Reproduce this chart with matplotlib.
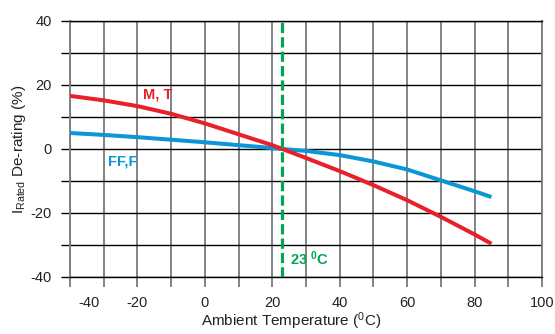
import matplotlib
matplotlib.use("Agg")
import matplotlib.pyplot as plt
import matplotlib.transforms as mtransforms
import numpy as np

plt.rcParams['font.family'] = ['Liberation Sans', 'DejaVu Sans']
plt.rcParams['mathtext.fontset'] = 'custom'
plt.rcParams['mathtext.rm'] = 'Liberation Sans'
plt.rcParams['mathtext.it'] = 'Liberation Sans'

# Data
temps = [-40, -30, -20, -10, 0, 10, 20, 23, 30, 40, 50, 60, 70, 80, 85]
mt_derating = [16.6, 15.2, 13.4, 11.0, 8.0, 4.6, 1.2, 0.0, -2.8, -6.9, -11.3, -16.0, -21.2, -26.7, -29.6]
fff_derating = [5.0, 4.4, 3.7, 2.9, 2.1, 1.2, 0.3, 0.0, -0.6, -1.9, -3.9, -6.4, -9.8, -13.2, -15.0]
ref_temp = 23
xtick_vals = [-40, -20, 0, 20, 40, 60, 80, 100]
xtick_labels = ['-40', '-20', '0', '20', '40', '60', '80', '100']
ytick_vals = [-40, -20, 0, 20, 40]
ytick_labels = ['-40', '-20', '0', '20', '40']

RED = '#E8202A'
BLUE = '#0B96D6'
GREEN = '#00A651'
VGRAY = '#7a7a7a'

fig = plt.figure(figsize=(5.55, 3.34), dpi=100)
ax = fig.add_axes([70/555, 1-277/334, (542-70)/555, (277-21)/334])

ax.set_xlim(-40, 100)
ax.set_ylim(-40, 40)

ax.set_xticks(xtick_vals)
ax.set_xticklabels(xtick_labels)
ax.set_xticks(np.arange(-40, 101, 10), minor=True)
ax.set_yticks(ytick_vals)
ax.set_yticklabels(ytick_labels)
ax.set_yticks(np.arange(-40, 41, 10), minor=True)

ax.grid(True, which='both', axis='x', color=VGRAY, lw=1.3)
ax.grid(True, which='both', axis='y', color='black', lw=1.0)
ax.set_axisbelow(True)

ax.tick_params(axis='x', which='both', length=7.5, width=1.3, color=VGRAY,
               labelsize=10.5, pad=6.5, labelcolor='#222222')
ax.tick_params(axis='y', which='both', length=6.5, width=1.0, color='black',
               labelsize=10.5, pad=6.5, labelcolor='#222222')

for s in ['left', 'right']:
    ax.spines[s].set_color(VGRAY)
    ax.spines[s].set_linewidth(1.3)
for s in ['top', 'bottom']:
    ax.spines[s].set_color('black')
    ax.spines[s].set_linewidth(1.0)

# shift the first x tick label like in the reference
offset = mtransforms.ScaledTranslation(0.19, 0, fig.dpi_scale_trans)
first = ax.get_xticklabels()[0]
first.set_transform(first.get_transform() + offset)

ax.plot(temps, fff_derating, color=BLUE, lw=2.9, solid_capstyle='butt', zorder=3)
ax.plot(temps, mt_derating, color=RED, lw=2.9, solid_capstyle='butt', zorder=4)
ax.axvline(ref_temp, color=GREEN, lw=2.3, dashes=(3.2, 1.3), zorder=5)

ax.text(-13.9, 16.9, 'M, T', color=RED, fontsize=10.5, fontweight='bold',
        ha='center', va='center')
ax.text(-24.3, -3.95, 'FF,F', color=BLUE, fontsize=10.5, fontweight='bold',
        ha='center', va='center')
ax.text(25.2, -34.4, '23 $^\\mathregular{0}$C', color=GREEN, fontsize=10.5,
        fontweight='bold', ha='left', va='center')

ax.set_xlabel('Ambient Temperature ($^\\mathregular{0}$C)', fontsize=11,
              color='#222222')
ax.xaxis.set_label_coords((291 - 70) / 472, -(321 - 277) / 256)
ax.xaxis.label.set_va('center')
ax.set_ylabel('I$_\\mathregular{Rated}$ De-rating (%)', fontsize=11,
              color='#222222', labelpad=2)

fig.savefig('out.png', dpi=100)
